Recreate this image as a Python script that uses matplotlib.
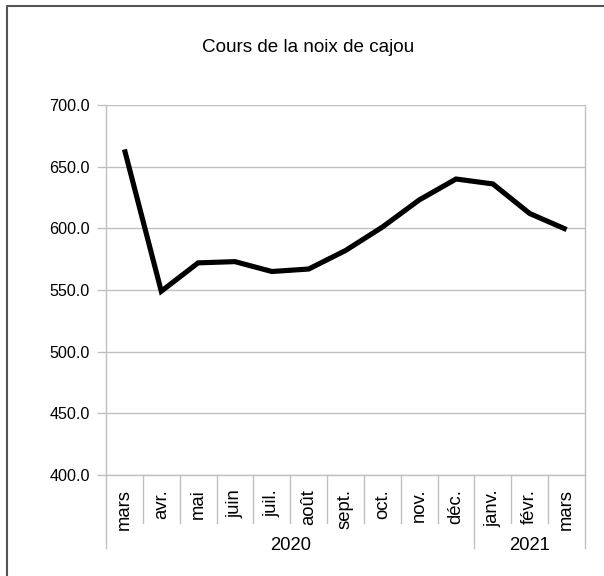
import matplotlib
matplotlib.use('Agg')
import matplotlib.pyplot as plt
from matplotlib.lines import Line2D
import matplotlib.transforms as mtransforms

plt.rcParams['font.family'] = ['Liberation Sans', 'DejaVu Sans']

# data
months = ['mars', 'avr.', 'mai', 'juin', 'juil.', 'août', 'sept.', 'oct.',
          'nov.', 'déc.', 'janv.', 'févr.', 'mars']
years = ['2020', '2021']
year_sizes = [10, 3]   # months per year
prices = [664.0, 549.0, 572.0, 573.0, 565.0, 567.0, 582.0, 601.0,
          623.0, 640.0, 636.0, 612.0, 599.0]
yticks = [400, 450, 500, 550, 600, 650, 700]

W, H = 604, 576
fig = plt.figure(figsize=(W / 100, H / 100), dpi=100)
# axes box in pixels: left 106, right 585, top 105, bottom 475
ax = fig.add_axes([106 / W, 1 - 475 / H, (585 - 106) / W, (475 - 105) / H])

grid_c = '#c0c0c0'
x = list(range(len(months)))
ax.plot(x, prices, color='black', lw=3.7, solid_joinstyle='miter',
        solid_capstyle='butt', zorder=3)

ax.set_xlim(-0.5, len(months) - 0.5)
ax.set_ylim(yticks[0], yticks[-1])
ax.set_yticks(yticks)
ax.set_yticklabels([f'{v:.1f}' for v in yticks], fontsize=11.6)
ax.tick_params(axis='y', length=6.5, width=1, color=grid_c, pad=5)
ax.yaxis.grid(True, color=grid_c, lw=1)
ax.set_axisbelow(True)

for s in ['left', 'right', 'bottom']:
    ax.spines[s].set_color(grid_c)
    ax.spines[s].set_linewidth(1)
ax.spines['top'].set_visible(False)

# month labels and separators below the axis
ax.set_xticks([])
trans = mtransforms.blended_transform_factory(ax.transData, fig.transFigure)
lab_y = 1 - 489 / H
for i, m in enumerate(months):
    ax.text(i, lab_y, m, transform=trans, rotation=90, ha='center', va='top',
            fontsize=13.3)

group_edges = [0]
for n in year_sizes:
    group_edges.append(group_edges[-1] + n)
for b in range(len(months) + 1):
    y_end = 1 - (548 if b in group_edges else 523) / H
    fig.add_artist(Line2D([b - 0.5, b - 0.5], [1 - 475 / H, y_end],
                          transform=trans, color=grid_c, lw=1))

for yr, a, b in zip(years, group_edges[:-1], group_edges[1:]):
    ax.text((a + b - 1) / 2, 1 - 546 / H, yr, transform=trans, ha='center',
            va='center', fontsize=13.3)

fig.text(308 / W, 1 - 47 / H, 'Cours de la noix de cajou', ha='center',
         va='center', fontsize=13.6)

# outer chart frame (only top and left edges visible in the crop)
fig.add_artist(Line2D([7 / W, 7 / W, 1], [0, 1 - 5.5 / H, 1 - 5.5 / H],
                      transform=fig.transFigure, color='#555555', lw=1.5))

fig.savefig('out.png', dpi=100)
